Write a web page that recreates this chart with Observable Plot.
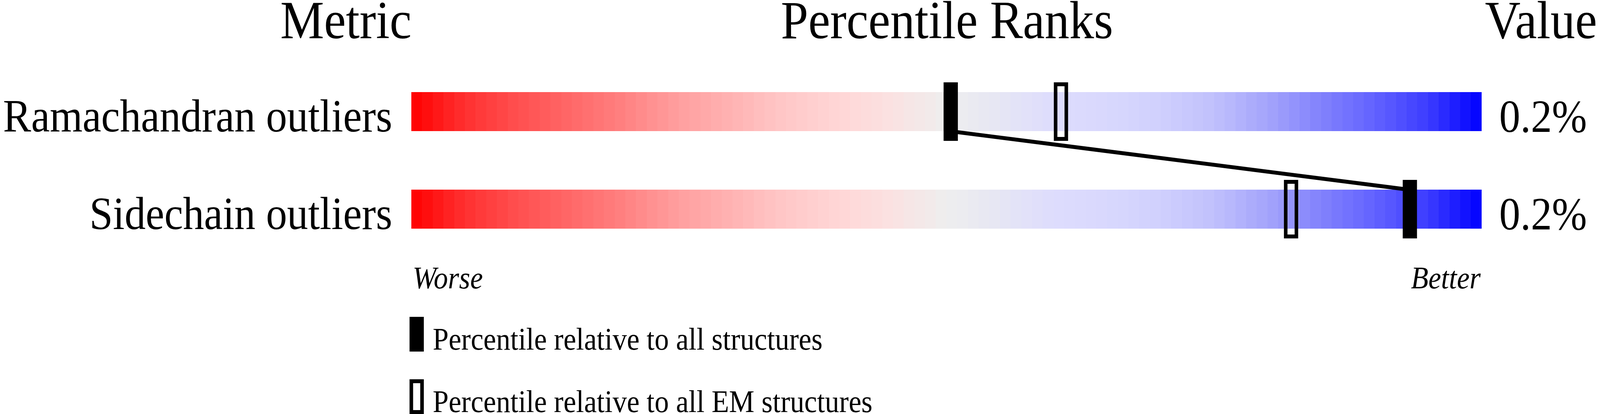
<!DOCTYPE html>
<html>
<head>
<meta charset="utf-8">
<script src="https://cdn.jsdelivr.net/npm/d3@7"></script>
<script src="https://cdn.jsdelivr.net/npm/@observablehq/plot@0.6"></script>
<style>
  html, body { margin: 0; padding: 0; background: #fff; overflow: hidden; }
  #wrap { width: 4485px; height: 1061px; overflow: hidden; background: #fff; transform-origin: 0 0; }
  #wrap svg { display: block; max-width: none !important; overflow: visible; }
</style>
</head>
<body>
<div id="wrap"></div>
<script>
// ---- data ----
const metrics = ["Ramachandran outliers", "Sidechain outliers"];
const percentileAll = [50.4, 93.3];   // percentile relative to all structures
const percentileEM = [60.7, 82.2];    // percentile relative to all EM structures
const valueLabels = ["0.2%", "0.2%"];
const headers = ["Metric", "Percentile Ranks", "Value"];
const scaleEnds = ["Worse", "Better"];
const legendLabels = ["Percentile relative to all structures", "Percentile relative to all EM structures"];
const gradientStops = [0, 5, 10, 15, 20, 25, 30, 35, 40, 45, 50, 55, 60, 65, 70, 75, 80, 85, 90, 95, 100];
const gradientColors = ["#ff0000", "#ff3030", "#ff5050", "#ff6868", "#ff8282", "#ff9f9f", "#ffb3b3", "#ffc8c8", "#ffd6d6", "#fae2e2",
  "#eeeeee", "#e6e6f4", "#dddcfd", "#d8d8fd", "#d0d0fd", "#c0c0fc", "#a4a4fb", "#8282fc", "#6262ff", "#3c3cff", "#0000ff"];

const FONT = '"Liberation Serif", "Times New Roman", Times, serif';
const barHalf = 0.2;

const rows = metrics.map((m, i) => ({metric: m, row: i, all: percentileAll[i], em: percentileEM[i], value: valueLabels[i]}));
const cells = rows.flatMap(r => d3.range(0, 100).map(p => ({row: r.row, p})));

const chart = Plot.plot({
  width: 4485,
  height: 790,
  marginLeft: 1153,
  marginRight: 332,
  marginTop: 0,
  marginBottom: 0,
  x: {domain: [0, 100], axis: null},
  y: {domain: [0, 1], range: [286, 536], axis: null},
  color: {type: "linear", domain: gradientStops, range: gradientColors, legend: false},
  style: {fontFamily: FONT, background: "white", color: "black"},
  marks: [
    // gradient sliders
    Plot.rect(cells, {
      x1: "p", x2: d => d.p + 1,
      y1: d => d.row - barHalf, y2: d => d.row + barHalf,
      fill: d => d.p + 0.5, shapeRendering: "crispEdges"
    }),
    // connecting line between the "all structures" markers
    Plot.line(rows, {
      x: "all",
      y: d => d.row === 0 ? d.row + barHalf : d.row - barHalf,
      stroke: "black", strokeWidth: 10
    }),
    // filled markers: percentile relative to all structures
    Plot.rect(rows, {
      x1: "all", x2: "all",
      y1: d => d.row - barHalf, y2: d => d.row + barHalf,
      insetLeft: -20, insetRight: -20, insetTop: -25, insetBottom: -25,
      fill: "black"
    }),
    // open markers: percentile relative to all EM structures
    Plot.rect(rows, {
      x1: "em", x2: "em",
      y1: d => d.row - barHalf, y2: d => d.row + barHalf,
      insetLeft: -15, insetRight: -15, insetTop: -20, insetBottom: -20,
      fill: "none", stroke: "black", strokeWidth: 10
    }),
    // metric names
    Plot.text(rows, {
      y: "row", text: "metric", frameAnchor: "left", textAnchor: "end",
      dx: -54, dy: 50, lineAnchor: "bottom", fontSize: 118
    }),
    // values
    Plot.text(rows, {
      y: "row", text: "value", frameAnchor: "right", textAnchor: "middle",
      dx: 172, dy: 51, lineAnchor: "bottom", fontSize: 118
    }),
    // column headers
    Plot.text([headers[0]], {text: d => d, frameAnchor: "top-left", textAnchor: "end", dy: 97, lineAnchor: "bottom", fontSize: 138}),
    Plot.text([headers[1]], {text: d => d, frameAnchor: "top", textAnchor: "middle", dx: 1, dy: 97, lineAnchor: "bottom", fontSize: 138}),
    Plot.text([headers[2]], {text: d => d, frameAnchor: "top-right", textAnchor: "middle", dx: 166, dy: 97, lineAnchor: "bottom", fontSize: 138}),
    // scale ends
    Plot.text([scaleEnds[0]], {text: d => d, frameAnchor: "top-left", textAnchor: "start", dx: 3, dy: 738, lineAnchor: "bottom", fontSize: 80, fontStyle: "italic"}),
    Plot.text([scaleEnds[1]], {text: d => d, frameAnchor: "top-right", textAnchor: "end", dx: -3, dy: 738, lineAnchor: "bottom", fontSize: 80, fontStyle: "italic"})
  ]
});
document.getElementById("wrap").appendChild(chart);

// ---- legend below the chart ----
const legend = d3.select("#wrap").append("svg")
  .attr("width", 4485).attr("height", 271)
  .style("display", "block")
  .style("font-family", FONT);
const items = legend.selectAll("g").data(legendLabels).join("g")
  .attr("transform", (d, i) => `translate(0,${i * 160})`);
items.append("rect")
  .attr("x", (d, i) => i === 0 ? 1148 : 1153)
  .attr("y", (d, i) => i === 0 ? 22 : 27)
  .attr("width", (d, i) => i === 0 ? 40 : 30)
  .attr("height", (d, i) => i === 0 ? 89 : 79)
  .attr("fill", (d, i) => i === 0 ? "black" : "none")
  .attr("stroke", (d, i) => i === 0 ? "none" : "black")
  .attr("stroke-width", 10);
items.append("text")
  .attr("x", 1213)
  .attr("y", 106)
  .attr("font-size", 80)
  .attr("fill", "black")
  .text(d => d);

// fit the 4485x1061 design into the actual viewport
function fit() {
  const w = document.documentElement.clientWidth || window.innerWidth || 4485;
  const h = window.innerHeight || 1061;
  document.getElementById("wrap").style.transform = `scale(${w / 4485}, ${h / 1061})`;
}
fit();
window.addEventListener("resize", fit);
</script>
</body>
</html>
